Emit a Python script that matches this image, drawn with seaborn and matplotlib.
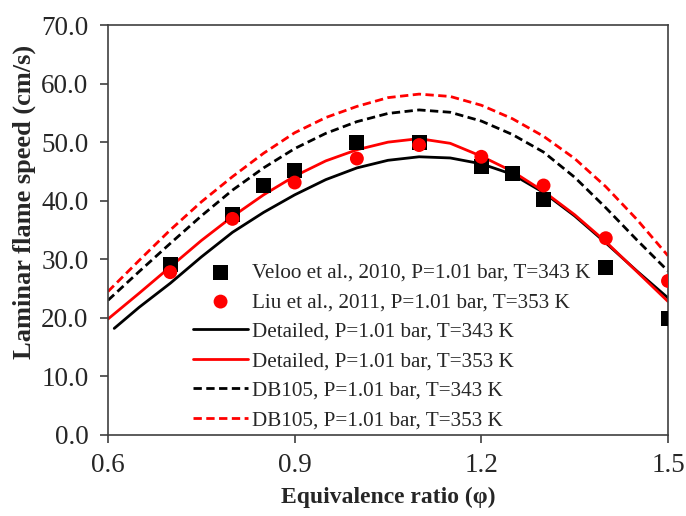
import matplotlib

matplotlib.use("Agg")
import matplotlib.pyplot as plt
import pandas as pd
import seaborn as sns

# experimental points
veloo_phi = [0.7, 0.8, 0.85, 0.9, 1.0, 1.1, 1.2, 1.25, 1.3, 1.4, 1.5]
veloo_sl = [29.1, 37.7, 42.6, 45.1, 50.0, 49.9, 45.8, 44.6, 40.2, 28.6, 19.9]
liu_phi = [0.7, 0.8, 0.9, 1.0, 1.1, 1.2, 1.3, 1.4, 1.5]
liu_sl = [27.8, 36.9, 43.1, 47.2, 49.5, 47.5, 42.6, 33.6, 26.3]

# model curves
phi_grid = [0.6, 0.65, 0.7, 0.75, 0.8, 0.85, 0.9, 0.95, 1.0, 1.05,
            1.1, 1.15, 1.2, 1.25, 1.3, 1.35, 1.4, 1.45, 1.5]
phi_grid_343 = [0.61] + phi_grid[1:]
detailed_343 = [18.2, 21.8, 25.9, 30.4, 34.6, 38.0, 41.0, 43.6, 45.6, 46.9,
                47.5, 47.3, 46.3, 44.5, 41.4, 37.4, 32.8, 28.0, 23.4]
detailed_353 = [19.8, 24.2, 28.7, 33.2, 37.3, 41.0, 44.2, 46.8, 48.7, 50.0,
                50.6, 49.8, 47.6, 45.0, 41.6, 37.6, 33.0, 27.9, 22.8]
db105_343 = [23.0, 27.9, 32.7, 37.4, 41.8, 45.6, 48.9, 51.5, 53.5, 54.9,
             55.5, 55.1, 53.6, 51.3, 48.3, 44.0, 38.8, 33.3, 28.0]
db105_353 = [24.5, 29.8, 35.0, 39.8, 44.1, 48.1, 51.6, 54.2, 56.1, 57.6,
             58.2, 57.8, 56.3, 54.0, 51.0, 47.2, 42.4, 36.8, 30.6]

LABELS = [
    "Veloo et al., 2010, P=1.01 bar, T=343 K",
    "Liu et al., 2011, P=1.01 bar, T=353 K",
    "Detailed, P=1.01 bar, T=343 K",
    "Detailed, P=1.01 bar, T=353 K",
    "DB105, P=1.01 bar, T=343 K",
    "DB105, P=1.01 bar, T=353 K",
]


def main():
    sns.set_style("white")
    plt.rcParams["font.family"] = ["Liberation Serif", "DejaVu Serif"]

    fig = plt.figure(figsize=(6.86, 5.16), dpi=100)
    ax = fig.add_axes([108 / 686, 81 / 516, 560 / 686, 410 / 516])

    lines = [
        (phi_grid_343, detailed_343, "black", "-", LABELS[2]),
        (phi_grid, detailed_353, "red", "-", LABELS[3]),
        (phi_grid, db105_343, "black", (0, (3, 1.6)), LABELS[4]),
        (phi_grid, db105_353, "red", (0, (3, 1.6)), LABELS[5]),
    ]
    for x, y, color, ls, label in lines:
        df = pd.DataFrame({"phi": x, "sl": y})
        sns.lineplot(data=df, x="phi", y="sl", color=color, linestyle=ls,
                     linewidth=2.0, label=label, ax=ax, zorder=2)

    sns.scatterplot(x=veloo_phi, y=veloo_sl, marker="s", s=115, color="black",
                    edgecolor="none", label=LABELS[0], ax=ax, zorder=3)
    sns.scatterplot(x=liu_phi, y=liu_sl, marker="o", s=100, color="red",
                    edgecolor="none", label=LABELS[1], ax=ax, zorder=3)

    ax.set_xlim(0.6, 1.5)
    ax.set_ylim(0, 70)
    ax.set_xticks([0.6, 0.9, 1.2, 1.5])
    ax.set_xticklabels(["0.6", "0.9", "1.2", "1.5"])
    ax.set_yticks(range(0, 71, 10))
    ax.set_yticklabels([f"{v:.1f}" for v in range(0, 71, 10)])
    ax.tick_params(axis="both", which="major", direction="out", length=6,
                   width=1.2, color="#404040", labelsize=19.5,
                   bottom=True, left=True, top=False, right=False)
    ax.tick_params(axis="y", pad=8)
    ax.tick_params(axis="x", pad=7)
    for spine in ax.spines.values():
        spine.set_color("#404040")
        spine.set_linewidth(1.2)

    ax.set_xlabel("Equivalence ratio (φ)", fontsize=17, fontweight="bold", labelpad=6)
    ax.set_ylabel("Laminar flame speed (cm/s)", fontsize=19, fontweight="bold")
    ax.yaxis.set_label_coords(-0.128, 0.568)

    handles, labels = ax.get_legend_handles_labels()
    order = [labels.index(lab) for lab in LABELS]
    ax.legend([handles[i] for i in order], [labels[i] for i in order],
              loc="lower left", bbox_to_anchor=(0.152, 0.012), frameon=False,
              fontsize=15.2, handlelength=2.6, handletextpad=0.2,
              labelspacing=0.46, borderpad=0, borderaxespad=0)

    fig.savefig("out.png", dpi=100)
    plt.close(fig)


if __name__ == "__main__":
    main()
